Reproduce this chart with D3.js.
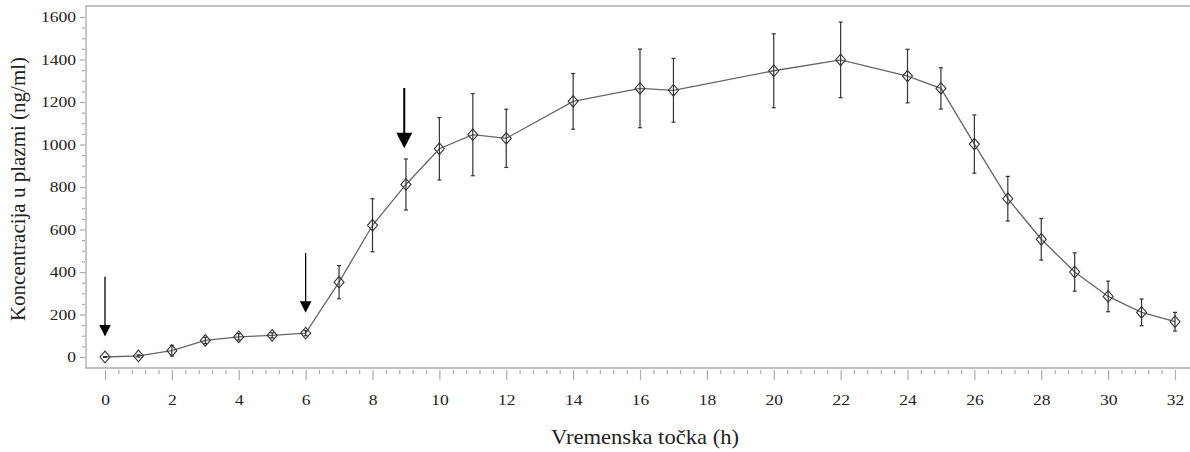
<!DOCTYPE html>
<html><head><meta charset="utf-8">
<script src="https://cdn.jsdelivr.net/npm/d3@7/dist/d3.min.js"></script>
<style>
html,body{margin:0;padding:0;background:#fff;}
svg{display:block;}
text{font-family:"Liberation Serif","Times New Roman",serif;fill:#222;}
</style></head>
<body>
<svg id="c" width="1190" height="452"></svg>
<script>
// ---- data ----
const times = [0,1,2,3,4,5,6,7,8,9,10,11,12,14,16,17,20,22,24,25,26,27,28,29,30,31,32];
const means = [0,5,30,78,95,102,112,352,620,812,980,1046,1029,1203,1264,1255,1347,1398,1322,1264,1002,745,554,400,285,210,166];
const sds   = [2,5,25,15,15,12,12,78,125,120,147,193,137,131,185,150,174,178,126,97,137,105,98,90,72,63,44];
const xMajorTicks = d3.range(0, 33, 2);
const yMajorTicks = [0,200,400,600,800,1000,1200,1400,1600];
const arrowTimes = [0, 6, 8.95];
const arrowTop   = [378, 489, 1266];
const arrowTip   = [96, 208, 982];
const xLabel = "Vremenska točka (h)";
const yLabel = "Koncentracija u plazmi (ng/ml)";

// ---- layout ----
const svg = d3.select("#c");
const frame = {left:86, top:6, right:1190, bottom:368};
const x = d3.scaleLinear().domain([0,32]).range([105,1175]);
const y = d3.scaleLinear().domain([0,1600]).range([357,17]);
const sx = 1.13; // horizontal text stretch of the original

// frame
svg.append("path")
  .attr("d", `M${frame.right},${frame.top}H${frame.left}V${frame.bottom}H${frame.right}`)
  .attr("fill","none").attr("stroke","#ababab").attr("stroke-width",1.3);

// x axis ticks
const xMinor = d3.range(0, 32.001, 0.4).map(v=>+v.toFixed(2)).filter(v=>Math.abs(v/2-Math.round(v/2))>1e-6);
const gxMinor = svg.append("g").attr("transform",`translate(0,${frame.bottom+2})`)
  .call(d3.axisBottom(x).tickValues(xMinor).tickSize(4).tickFormat(""));
const gx = svg.append("g").attr("transform",`translate(0,${frame.bottom+2})`)
  .call(d3.axisBottom(x).tickValues(xMajorTicks).tickSize(10).tickPadding(14).tickFormat(d3.format("d")));
[gxMinor,gx].forEach(g=>{g.select(".domain").remove(); g.selectAll("line").attr("stroke","#aaa").attr("stroke-width",1.2);});
gx.selectAll("text").attr("font-size",15.5).attr("fill","#222").attr("x",0)
  .attr("transform",`scale(${sx},1)`);

// y axis ticks
const yMinor = d3.range(0,1601,50).filter(v=>v%200!==0);
const gyMinor = svg.append("g").attr("transform",`translate(${frame.left-1},0)`)
  .call(d3.axisLeft(y).tickValues(yMinor).tickSize(3).tickFormat(""));
const gy = svg.append("g").attr("transform",`translate(${frame.left-1},0)`)
  .call(d3.axisLeft(y).tickValues(yMajorTicks).tickSize(5).tickPadding(4).tickFormat(d3.format("d")));
[gyMinor,gy].forEach(g=>{g.select(".domain").remove(); g.selectAll("line").attr("stroke","#aaa").attr("stroke-width",1.2);});
gy.selectAll("text").attr("font-size",15.5).attr("fill","#222")
  .attr("transform",`translate(-9,0) scale(${sx},1) translate(9,0)`);

// axis labels
svg.append("text").attr("x",0).attr("y",0).attr("font-size",20).attr("text-anchor","middle")
  .attr("transform",`translate(645,444) scale(${sx},1)`).text(xLabel);
svg.append("text").attr("font-size",21).attr("text-anchor","middle")
  .attr("transform",`translate(25,189) rotate(-90)`).text(yLabel);

// connecting line
const pts = times.map((t,i)=>({t, m:means[i], s:sds[i]}));
svg.append("path").datum(pts)
  .attr("d", d3.line().x(d=>x(d.t)).y(d=>y(d.m)))
  .attr("fill","none").attr("stroke","#666").attr("stroke-width",1.3);

// error bars
const eb = svg.append("g").attr("stroke","#333").attr("stroke-width",1.2);
pts.forEach(d=>{
  const x0=x(d.t), y1=y(d.m+d.s), y2=y(d.m-d.s);
  eb.append("line").attr("x1",x0).attr("x2",x0).attr("y1",y1).attr("y2",y2);
  eb.append("line").attr("x1",x0-2).attr("x2",x0+2).attr("y1",y1).attr("y2",y1);
  eb.append("line").attr("x1",x0-2).attr("x2",x0+2).attr("y1",y2).attr("y2",y2);
});

// diamonds
svg.append("g").selectAll("path").data(pts).join("path")
  .attr("d", d=>{const cx=x(d.t), cy=y(d.m); return `M${cx},${cy-5.8}L${cx+5},${cy}L${cx},${cy+5.8}L${cx-5},${cy}Z`;})
  .attr("fill","none").attr("stroke","#333").attr("stroke-width",1.1);

// arrows
arrowTimes.forEach((t,i)=>{
  const big = i===2;
  const hw = big?8:5.8, hh = big?15.5:11.5, sw = big?2:1.3;
  const ax=x(t), yt=y(arrowTop[i]), yp=y(arrowTip[i]);
  svg.append("line").attr("x1",ax).attr("x2",ax).attr("y1",yt).attr("y2",yp-hh+1)
    .attr("stroke","#000").attr("stroke-width",sw);
  svg.append("path").attr("d",`M${ax-hw},${yp-hh}L${ax+hw},${yp-hh}L${ax},${yp}Z`).attr("fill","#000");
});
</script>
</body></html>
